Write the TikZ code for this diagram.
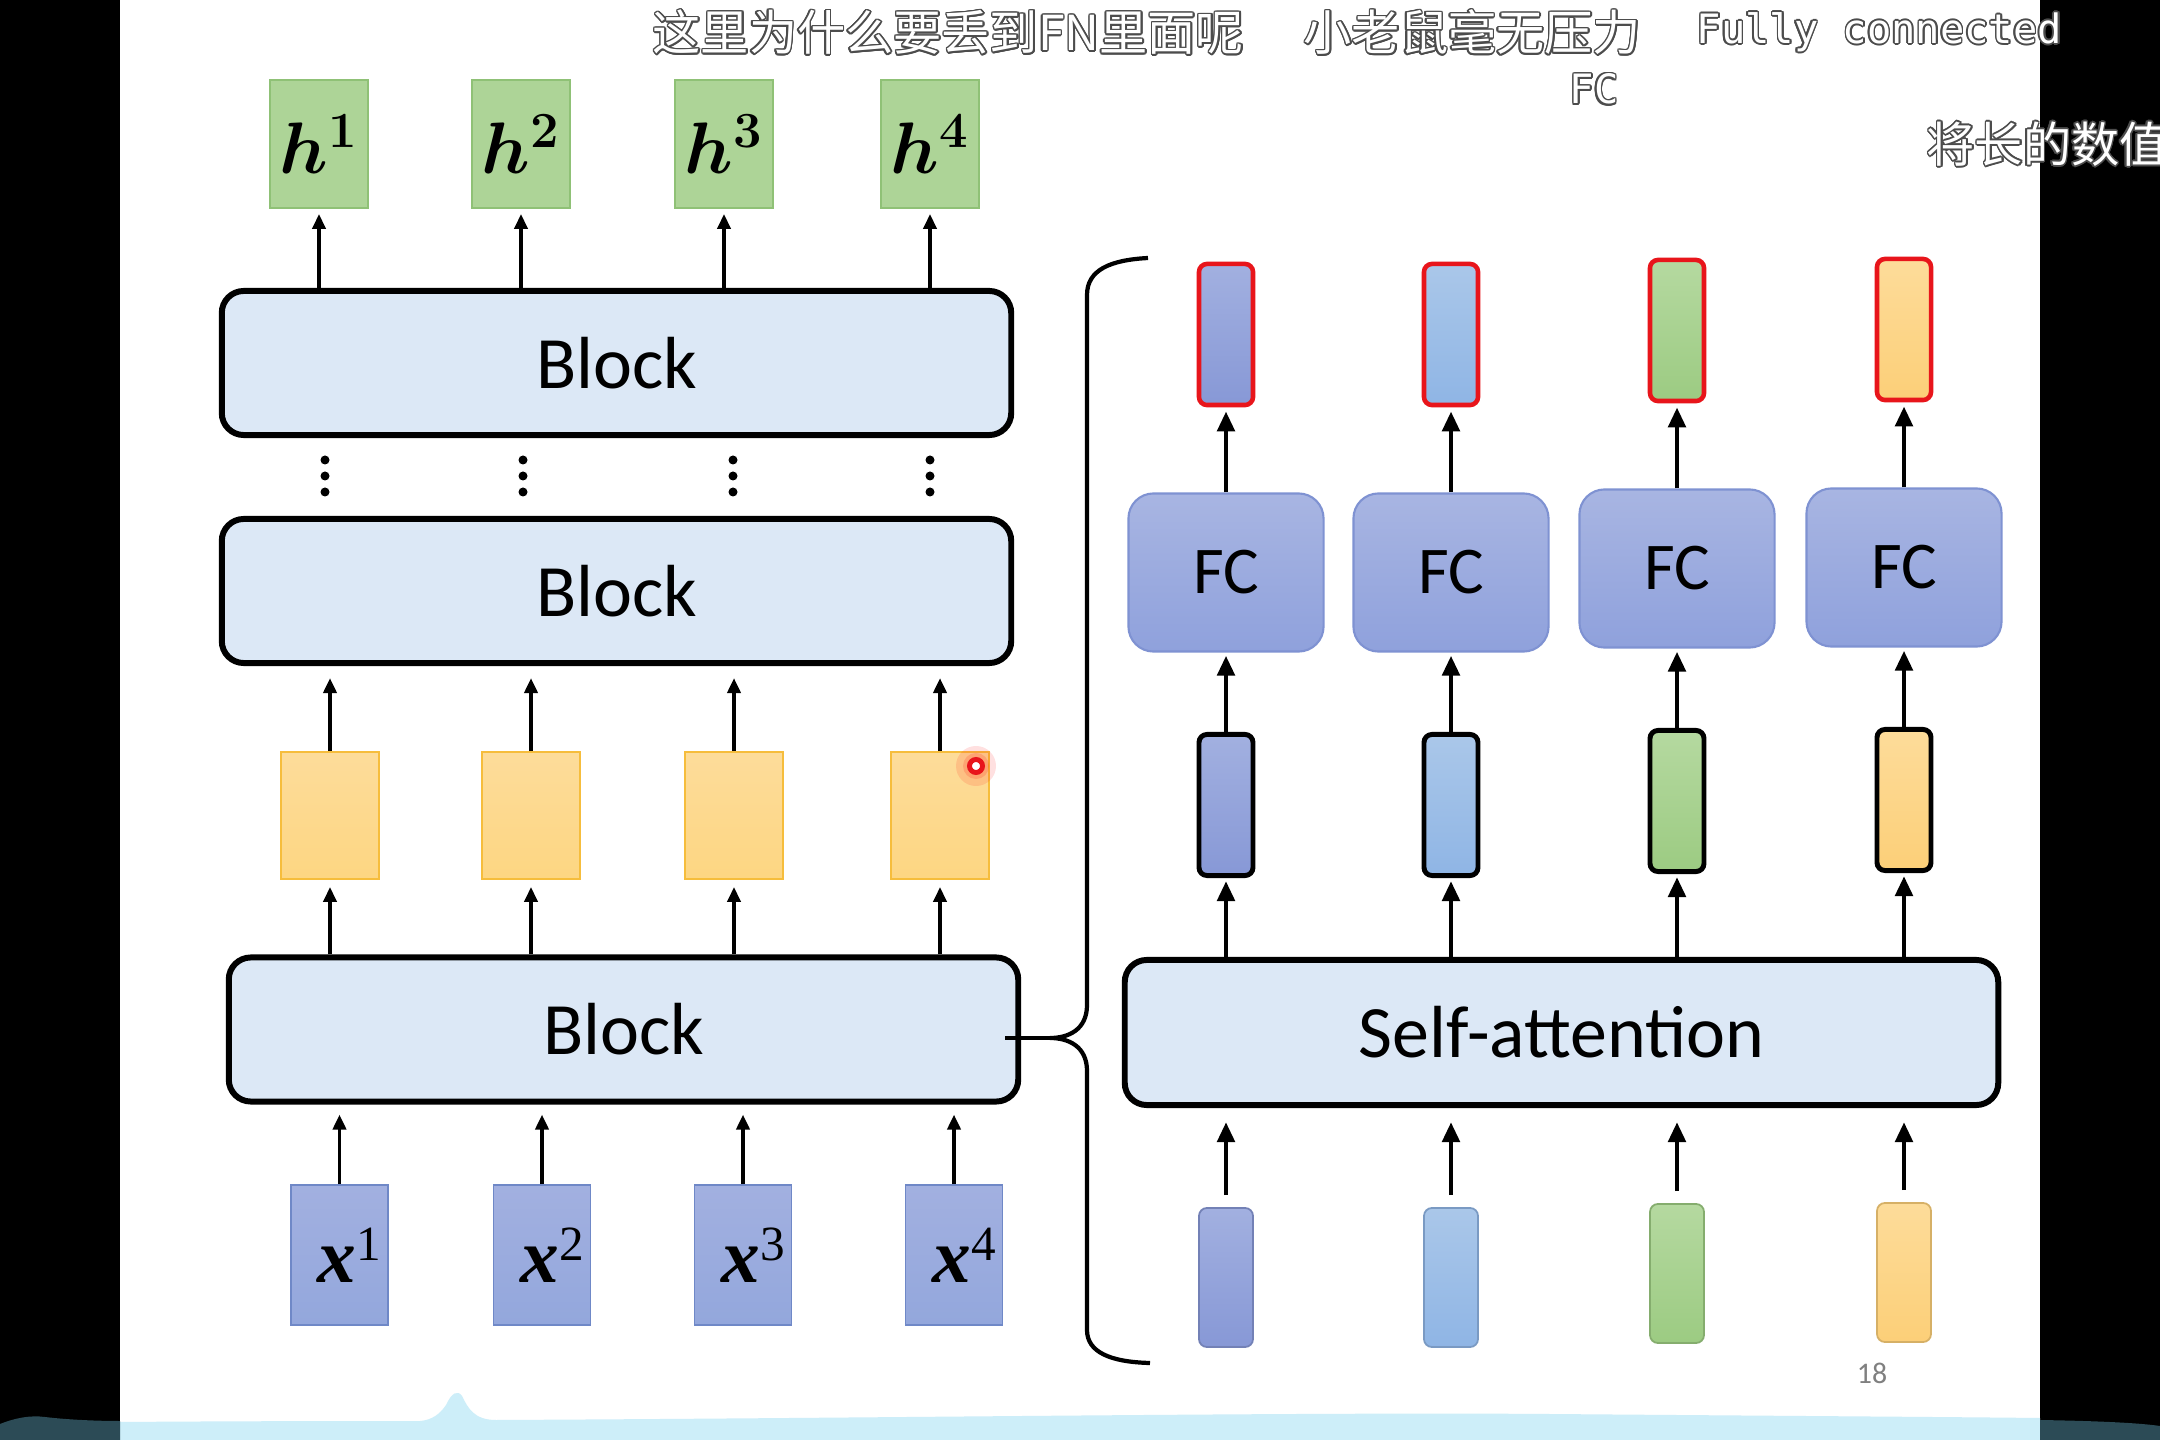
\documentclass[tikz,border=0pt]{standalone}
\usepackage[no-math]{fontspec}
\setmainfont{Carlito}
\newfontfamily\cjk{Noto Sans CJK SC}
\newfontfamily\monof{DejaVu Sans Mono}
\newfontfamily\serf{Liberation Serif}
\usepackage{bm}
\usepackage{contour}
\contourlength{0.45pt}
\usetikzlibrary{arrows.meta,positioning}

\definecolor{blkfill}{HTML}{DCE8F6}
\definecolor{hfill}{HTML}{ADD497}
\definecolor{hline}{HTML}{8FC176}
\definecolor{yfill}{HTML}{FDD682}
\definecolor{yline}{HTML}{F6BD3C}
\definecolor{xfill}{HTML}{93A7DC}
\definecolor{xline}{HTML}{6F88C7}
\definecolor{fctop}{HTML}{A8B5E2}
\definecolor{fcbot}{HTML}{8FA1DC}
\definecolor{fcline}{HTML}{7F92D2}
\definecolor{vt1}{HTML}{A2B0E0}\definecolor{vb1}{HTML}{8798D6}
\definecolor{vt2}{HTML}{AAC7E9}\definecolor{vb2}{HTML}{8FB5E5}
\definecolor{vt3}{HTML}{B5D9A0}\definecolor{vb3}{HTML}{9CCB82}
\definecolor{vt4}{HTML}{FDDC9A}\definecolor{vb4}{HTML}{FCCF78}
\definecolor{redline}{HTML}{E8151B}
\definecolor{bandlt}{HTML}{CDEEF9}
\definecolor{banddk}{HTML}{2C4B56}

\newcommand{\xlab}[1]{\hspace*{0.2cm}{\serf\bfseries\itshape x}\raisebox{0.6ex}{\serf\fontsize{14}{16}\selectfont #1}}

\tikzset{
  blk/.style={draw=black,line width=1.7pt,rounded corners=0.22cm,fill=blkfill,inner sep=0pt,
    minimum width=7.89cm,minimum height=1.44cm,font=\fontsize{21}{24}\selectfont},
  hbox/.style={draw=hline,fill=hfill,line width=0.5pt,inner sep=0pt,
    minimum width=0.98cm,minimum height=1.28cm,font=\fontsize{21}{24}\selectfont},
  ybox/.style={draw=yline,top color=vt4,bottom color=yfill,line width=0.5pt,inner sep=0pt,
    minimum width=0.98cm,minimum height=1.27cm},
  xbox/.style={draw=xline,top color=vt1,bottom color=xfill,line width=0.5pt,inner sep=0pt,
    minimum width=0.97cm,minimum height=1.40cm,font=\fontsize{22}{24}\selectfont},
  fcbox/.style={draw=fcline,top color=fctop,bottom color=fcbot,line width=0.6pt,rounded corners=0.25cm,
    inner sep=0pt,minimum width=1.95cm,minimum height=1.58cm,font=\fontsize{19}{22}\selectfont},
  vec/.style={rounded corners=0.08cm,inner sep=0pt,minimum width=0.54cm,minimum height=1.41cm},
  arr/.style={line width=1.1pt,-{Triangle[width=0.13cm,length=0.15cm]}},
  arrR/.style={line width=1.4pt,-{Triangle[width=0.17cm,length=0.2cm]}},
  brc/.style={line width=1.2pt},
  subt/.style={inner sep=0pt,text=white,font=\cjk\fontsize{13.7}{16}\selectfont},
}

\begin{document}
\begin{tikzpicture}[x=0.01cm,y=-0.01cm]
\useasboundingbox (0,0) rectangle (2160,1440);
\fill[white] (120,0) rectangle (2040,1440);
\fill[black] (0,0) rectangle (120,1440);
\fill[black] (2040,0) rectangle (2160,1440);

\foreach \i/\xx in {1/319,2/521,3/724,4/930}
  \node[hbox] (h\i) at (\xx,144) {$\bm{h^{\i}}$};
\node[blk] (blkA) at (616.5,363) {Block};
\node[blk] (blkB) at (616.5,591) {Block};
\node[blk] (blkC) at (623.5,1029.5) {Block};
\foreach \i/\xx in {1/330,2/531,3/734,4/940}
  \node[ybox] (y\i) at (\xx,815.5) {};
\foreach \i/\xx in {1/339.5,2/542,3/743,4/954}
  \node[xbox] (x\i) at (\xx,1255) {\xlab{\i}};
\foreach \xx in {325,523,733,930}
  \foreach \yy in {460,476,492}
    \fill (\xx,\yy) circle (0.045cm);
\foreach \i in {1,...,4}{
  \draw[arr,shorten >=0.05cm] (h\i |- blkA.north) -- (h\i.south);
  \draw[arr,shorten >=0.12cm] (y\i.north) -- (y\i |- blkB.south);
  \draw[arr,shorten >=0.07cm] (y\i |- blkC.north) -- (y\i.south);
  \draw[arr,shorten >=0.1cm] (x\i.north) -- (x\i |- blkC.south);
}

\node[blk,minimum width=8.73cm,minimum height=1.45cm] (sa) at (1561.5,1032.5) {Self-attention};
\foreach \i/\xx/\dy in {1/1226/0,2/1451/0,3/1677/-4,4/1904/-5}{
  \node[vec,top color=vt\i,bottom color=vb\i,draw=vb\i!85!black,line width=0.5pt,minimum height=1.39cm] (v\i) at (\xx,1277.5+\dy) {};
  \node[vec,top color=vt\i,bottom color=vb\i,draw=black,line width=1.4pt] (m\i) at (\xx,805+\dy) {};
  \node[fcbox] (fc\i) at (\xx,572.5+\dy) {FC};
  \node[vec,top color=vt\i,bottom color=vb\i,draw=redline,line width=1.3pt] (r\i) at (\xx,334.5+\dy) {};
  \draw[arrR,shorten <=0.12cm,shorten >=0.14cm] (v\i.north) -- (v\i |- sa.south);
  \draw[arrR,shorten >=0.03cm] (m\i |- sa.north) -- (m\i.south);
  \draw[arrR,shorten >=0.03cm] (m\i.north) -- (fc\i.south);
  \draw[arrR,shorten >=0.04cm] (fc\i.north) -- (r\i.south);
}

\coordinate (brT) at (1148,258);
\coordinate (brB) at (1150,1363);
\coordinate (brTip) at (1050,1038);
\draw[brc] (brT) .. controls (1110,260) and (1087,270) .. (1087,295) -- (1087,1005)
  .. controls (1087,1030) and (1068,1038) .. (brTip)
  .. controls (1068,1038) and (1087,1046) .. (1087,1071) -- (1087,1330)
  .. controls (1087,1352) and (1110,1362) .. (brB);
\draw[brc] (blkC.east |- brTip) ++(-16,0) -- (brTip);

\fill[red,opacity=0.12] (976,766) circle (0.2cm);
\fill[red,opacity=0.15] (976,766) circle (0.13cm);
\draw[redline,line width=1.4pt,fill=white] (976,766) circle (0.065cm);

\node[font=\fontsize{8.5}{10}\selectfont,text=gray,inner sep=0pt] (pg) at (1872,1373) {18};

\node[subt,anchor=west] (sub1) at (652,33) {\contour{black!70}{这里为什么要丢到FN里面呢}};
\node[subt,anchor=west] (sub2) at (1303,33) {\contour{black!70}{小老鼠毫无压力}};
\node[subt,anchor=west,font=\monof\fontsize{11.5}{14}\selectfont] (sub3) at (1696,33) {\contour{black!70}{Fully connected}};
\node[subt,font=\monof\fontsize{11.5}{14}\selectfont] (sub4) at (1594,90) {\contour{black!70}{FC}};
\node[subt,anchor=west] (sub5) at (1926,145) {\contour{black!70}{将长的数值}};

\fill[bandlt] (120,1440) -- (120,1422) .. controls (250,1421) and (380,1421) .. (420,1421)
  .. controls (432,1420) and (440,1414) .. (446,1405) .. controls (452,1392) and (458,1390) .. (462,1396)
  .. controls (468,1408) and (474,1420) .. (496,1420) .. controls (900,1418) and (1300,1412) .. (1550,1414)
  .. controls (1800,1416) and (1950,1417) .. (2040,1418) -- (2040,1440) -- cycle;
\fill[banddk] (0,1440) -- (0,1424) .. controls (15,1418) and (30,1415) .. (45,1417)
  .. controls (70,1420) and (100,1421) .. (120,1421) -- (120,1440) -- cycle;
\fill[banddk] (2040,1440) -- (2040,1420) .. controls (2100,1421) and (2140,1423) .. (2160,1426) -- (2160,1440) -- cycle;
\end{tikzpicture}
\end{document}
